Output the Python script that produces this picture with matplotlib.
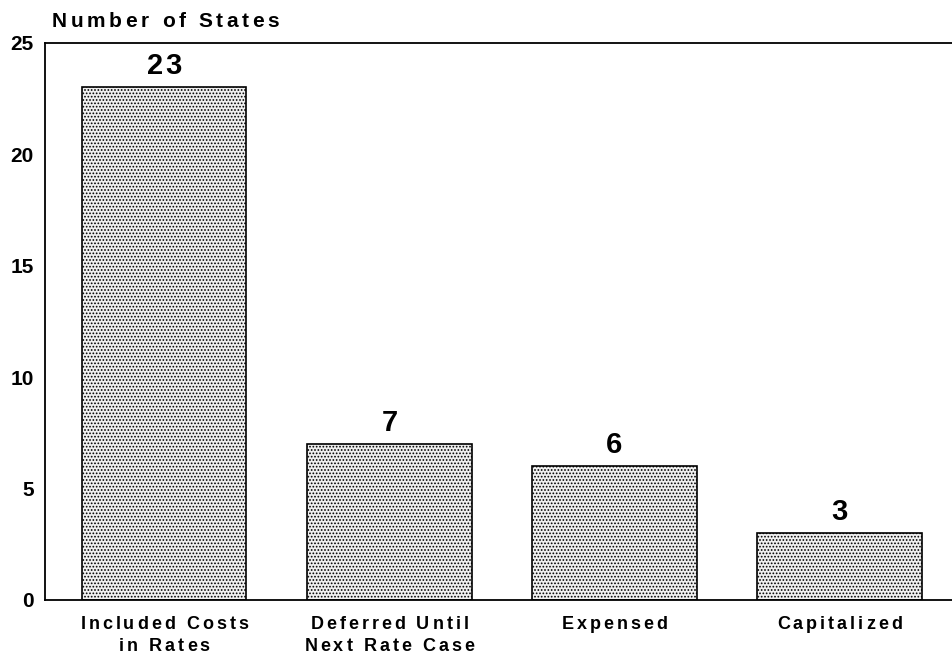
import matplotlib.pyplot as plt
from matplotlib.font_manager import FontProperties
from matplotlib.transforms import IdentityTransform

categories = ["Included Costs\nin Rates", "Deferred Until\nNext Rate Case", "Expensed", "Capitalized"]
states = [23, 7, 6, 3]
yticks = [0, 5, 10, 15, 20, 25]

plt.rcParams['font.family'] = ['Liberation Sans', 'DejaVu Sans']
plt.rcParams['hatch.color'] = '#9a9a9a'
plt.rcParams['hatch.linewidth'] = 0.8

fig = plt.figure(figsize=(9.52, 6.61), dpi=100)
ax = fig.add_axes([0.0473, 0.0923, 0.9527, 0.843])
renderer = fig.canvas.get_renderer()


def tracked(xpx, ypx, s, size, track, ha='center', weight='bold'):
    # draw a string letter by letter in pixel coords with extra spacing
    fp = FontProperties(family='Liberation Sans', size=size, weight=weight)

    def w(t):
        return renderer.get_text_width_height_descent(t, fp, ismath=False)[0]

    total = w(s) + track * (len(s) - 1)
    x0 = xpx - total / 2 if ha == 'center' else xpx
    for i, ch in enumerate(s):
        if ch == ' ':
            continue
        pos = w(s[:i + 1]) - w(ch)
        fig.text(x0 + pos + track * i, ypx, ch, fontproperties=fp,
                 ha='left', va='baseline', transform=IdentityTransform())


x = list(range(len(categories)))
ax.bar(x, states, width=0.73, color='#f0f0f0', edgecolor='black',
       linewidth=1.2, hatch='.....')

ax.set_xlim(-0.53, 3.5)
ax.set_ylim(0, 25)
ax.set_yticks(yticks)
ax.set_xticks(x)
ax.set_xticklabels([])
ax.tick_params(axis='both', length=0)
ax.tick_params(axis='y', labelsize=15, pad=8)
for lab in ax.get_yticklabels():
    lab.set_fontweight('bold')

ax.spines['right'].set_visible(False)
for s in ['left', 'top', 'bottom']:
    ax.spines[s].set_linewidth(1.3)

H = fig.bbox.height

# value labels above bars
for xi, v in zip(x, states):
    px, py = ax.transData.transform((xi, v))
    tracked(px, py + 13, str(v), 21, 2)

# category labels under bars
for xi, lab in zip(x, categories):
    px, py = ax.transData.transform((xi, 0))
    for j, line in enumerate(lab.split('\n')):
        tracked(px, py - 29 - 22 * j, line, 13, 3)

# axis title
tracked(52, H - 27, "Number of States", 15, 3.6, ha='left')

fig.savefig("out.png", dpi=100)
